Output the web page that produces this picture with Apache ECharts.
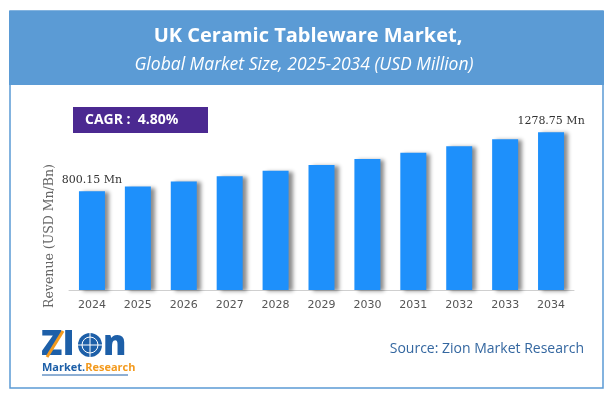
<!DOCTYPE html>
<html>
<head>
<meta charset="utf-8">
<script src="https://cdn.jsdelivr.net/npm/echarts@6/dist/echarts.min.js"></script>
<style>
  html, body { margin: 0; padding: 0; background: #fff; }
  #chart { width: 614px; height: 398px; }
</style>
</head>
<body>
<div id="chart"></div>
<script>
const years = ['2024', '2025', '2026', '2027', '2028', '2029', '2030', '2031', '2032', '2033', '2034']
const revenue = [800.15, 838, 879, 921, 966, 1012, 1061, 1111, 1165, 1221, 1278.75]
const titleText = 'UK Ceramic Tableware Market,'
const subtitleText = 'Global Market Size, 2025-2034 (USD Million)'
const cagrText = 'CAGR :  4.80%'
const yAxisName = 'Revenue (USD Mn/Bn)'
const sourceText = 'Source: Zion Market Research'

const sans = "'Open Sans', 'Noto Sans', sans-serif"
const serif = "'DejaVu Serif', serif"
const logoBlue = '#1d5fa8'
const logoOrange = '#f39a1e'
const last = revenue.length - 1

const chart = echarts.init(document.getElementById('chart'))

chart.setOption({
  backgroundColor: '#ffffff',
  animation: false,
  grid: { left: 69, right: 40, top: 92.5, bottom: 108 },
  xAxis: {
    type: 'category',
    data: years,
    axisLine: { lineStyle: { color: '#cfcfcf', width: 1 } },
    axisTick: { show: false },
    axisLabel: { color: '#555', fontFamily: 'DejaVu Sans', fontSize: 11, margin: 10 },
  },
  yAxis: {
    type: 'value',
    min: 0,
    max: 1600,
    show: false,
    splitLine: { show: false },
  },
  series: [
    {
      type: 'bar',
      barWidth: 26,
      data: revenue.map((v, i) => ({ value: v, label: { show: i === 0 || i === last } })),
      itemStyle: {
        color: '#1e90fb',
        shadowColor: 'rgba(0,0,0,0.45)',
        shadowBlur: 4,
        shadowOffsetX: 4,
        shadowOffsetY: 1,
      },
      label: {
        position: 'top',
        distance: 6,
        color: '#333',
        fontFamily: serif,
        fontSize: 11,
        formatter: ({ value }) => Number(value).toFixed(2) + ' Mn',
      },
    },
  ],
  graphic: [
    // outer frame
    {
      type: 'rect',
      shape: { x: 10, y: 11, width: 593, height: 377 },
      style: { fill: 'none', stroke: '#5b9bd5', lineWidth: 1.5 },
      z: 1,
    },
    // header band
    {
      type: 'rect',
      shape: { x: 9, y: 11, width: 595, height: 74 },
      style: { fill: '#5b9bd5' },
      z: 2,
    },
    {
      type: 'text',
      x: 308,
      y: 36,
      style: {
        text: titleText,
        fill: '#fff',
        font: `bold 20px ${sans}`,
        textAlign: 'center',
        textVerticalAlign: 'middle',
      },
      z: 3,
    },
    {
      type: 'text',
      x: 304,
      y: 65,
      style: {
        text: subtitleText,
        fill: '#fff',
        font: `italic 17.5px ${sans}`,
        textAlign: 'center',
        textVerticalAlign: 'middle',
      },
      z: 3,
    },
    // CAGR badge
    {
      type: 'rect',
      shape: { x: 73, y: 107, width: 135, height: 26 },
      style: { fill: '#4b2991' },
      z: 3,
    },
    {
      type: 'text',
      x: 85,
      y: 120,
      style: {
        text: cagrText,
        fill: '#fff',
        font: `bold 14px ${sans}`,
        textVerticalAlign: 'middle',
      },
      z: 4,
    },
    // y axis name
    {
      type: 'text',
      x: 50,
      y: 236,
      rotation: Math.PI / 2,
      style: {
        text: yAxisName,
        fill: '#666',
        font: `12.5px ${serif}`,
        textAlign: 'center',
        textVerticalAlign: 'middle',
      },
      z: 3,
    },
    // logo: Z I (globe) n
    {
      type: 'text',
      x: 41,
      y: 345,
      style: {
        text: 'ZI',
        fill: logoBlue,
        font: `900 35px ${sans}`,
        textVerticalAlign: 'middle',
      },
      z: 3,
    },
    {
      type: 'line',
      shape: { x1: 47, y1: 357, x2: 63, y2: 331 },
      style: { stroke: logoOrange, lineWidth: 3 },
      z: 4,
    },
    {
      type: 'circle',
      shape: { cx: 90, cy: 345, r: 12 },
      style: { fill: logoBlue },
      z: 3,
    },
    {
      type: 'circle',
      shape: { cx: 90, cy: 345, r: 8 },
      style: { fill: 'none', stroke: '#fff', lineWidth: 1 },
      z: 4,
    },
    {
      type: 'line',
      shape: { x1: 78, y1: 345, x2: 102, y2: 345 },
      style: { stroke: '#fff', lineWidth: 1 },
      z: 4,
    },
    {
      type: 'line',
      shape: { x1: 90, y1: 333, x2: 90, y2: 357 },
      style: { stroke: '#fff', lineWidth: 1 },
      z: 4,
    },
    {
      type: 'text',
      x: 103,
      y: 345,
      style: {
        text: 'n',
        fill: logoBlue,
        font: `900 35px ${sans}`,
        textVerticalAlign: 'middle',
      },
      z: 3,
    },
    {
      type: 'text',
      x: 42,
      y: 368,
      style: {
        text: '{b|Market.}{o|Research}',
        rich: {
          b: { fill: logoBlue, font: `bold 11px ${sans}` },
          o: { fill: logoOrange, font: `bold 11px ${sans}` },
        },
        textVerticalAlign: 'middle',
      },
      z: 3,
    },
    {
      type: 'line',
      shape: { x1: 42, y1: 375, x2: 128, y2: 375 },
      style: { stroke: logoBlue, lineWidth: 1 },
      z: 3,
    },
    // source
    {
      type: 'text',
      x: 584,
      y: 349,
      style: {
        text: sourceText,
        fill: '#3467a0',
        font: `14px ${sans}`,
        textAlign: 'right',
        textVerticalAlign: 'middle',
      },
      z: 3,
    },
  ],
})

window.addEventListener('resize', () => chart.resize())
</script>
</body>
</html>
